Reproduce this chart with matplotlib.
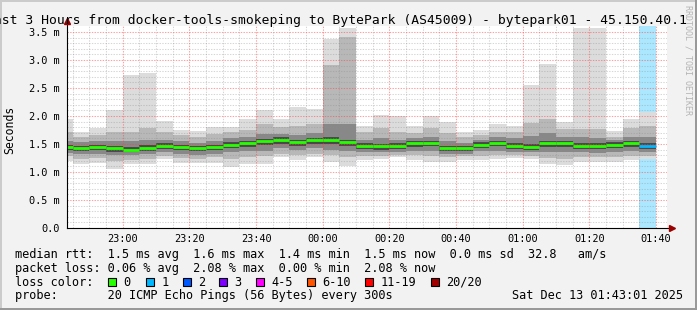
import numpy as np
import matplotlib.pyplot as plt
from matplotlib.patches import Rectangle

W, H = 697, 310

# 5-minute slots, minutes after 22:00 (slot start)
slot_start = np.arange(40, 220, 5)

# per-slot ping distribution, ms
med = [1.45, 1.43, 1.44, 1.42, 1.40, 1.43, 1.47, 1.45, 1.42, 1.45, 1.49, 1.51,
       1.55, 1.58, 1.54, 1.57, 1.58, 1.53, 1.47, 1.46, 1.47, 1.51, 1.52, 1.42,
       1.42, 1.49, 1.52, 1.47, 1.45, 1.51, 1.52, 1.47, 1.47, 1.49, 1.51, 1.47]
hi = [1.95, 1.72, 1.79, 2.11, 2.73, 2.77, 1.91, 1.75, 1.73, 1.81, 1.81, 1.95,
      2.11, 1.95, 2.16, 2.13, 3.38, 3.58, 1.82, 2.02, 2.00, 1.82, 2.00, 1.89,
      1.72, 1.75, 1.85, 1.82, 2.55, 2.93, 1.89, 3.58, 3.58, 1.73, 1.95, 2.08]
lo = [1.20, 1.14, 1.16, 1.05, 1.14, 1.14, 1.23, 1.16, 1.16, 1.16, 1.09, 1.14,
      1.15, 1.26, 1.21, 1.26, 1.18, 1.11, 1.21, 1.23, 1.27, 1.21, 1.18, 1.17,
      1.21, 1.21, 1.23, 1.25, 1.23, 1.14, 1.12, 1.18, 1.17, 1.17, 1.21, 1.23]
p90 = [1.72, 1.62, 1.66, 1.72, 1.72, 1.78, 1.72, 1.66, 1.62, 1.68, 1.72, 1.75,
       1.85, 1.80, 1.82, 1.85, 2.91, 3.41, 1.72, 1.78, 1.72, 1.70, 1.78, 1.70,
       1.62, 1.66, 1.72, 1.72, 1.88, 1.95, 1.76, 1.76, 1.76, 1.62, 1.78, 1.82]
p75 = [1.56, 1.53, 1.55, 1.55, 1.55, 1.58, 1.58, 1.56, 1.52, 1.56, 1.60, 1.62,
       1.68, 1.68, 1.66, 1.70, 1.85, 1.85, 1.58, 1.60, 1.58, 1.60, 1.63, 1.55,
       1.52, 1.58, 1.62, 1.60, 1.65, 1.70, 1.62, 1.62, 1.60, 1.58, 1.62, 1.62]
p60 = [1.49, 1.47, 1.48, 1.47, 1.45, 1.48, 1.51, 1.49, 1.47, 1.49, 1.53, 1.55,
       1.59, 1.62, 1.58, 1.61, 1.63, 1.58, 1.51, 1.50, 1.51, 1.55, 1.56, 1.47,
       1.47, 1.53, 1.56, 1.52, 1.50, 1.55, 1.56, 1.52, 1.52, 1.53, 1.55, 1.52]
p40 = [1.40, 1.38, 1.39, 1.36, 1.35, 1.38, 1.41, 1.40, 1.37, 1.40, 1.43, 1.45,
       1.48, 1.50, 1.47, 1.50, 1.50, 1.46, 1.41, 1.40, 1.41, 1.45, 1.46, 1.37,
       1.37, 1.43, 1.46, 1.41, 1.40, 1.45, 1.45, 1.41, 1.41, 1.43, 1.45, 1.41]
p25 = [1.34, 1.32, 1.33, 1.30, 1.30, 1.32, 1.35, 1.33, 1.31, 1.33, 1.35, 1.37,
       1.38, 1.42, 1.40, 1.42, 1.40, 1.38, 1.35, 1.35, 1.36, 1.38, 1.38, 1.32,
       1.32, 1.37, 1.38, 1.36, 1.35, 1.36, 1.35, 1.35, 1.34, 1.35, 1.37, 1.35]
p10 = [1.28, 1.24, 1.25, 1.20, 1.22, 1.24, 1.29, 1.25, 1.24, 1.26, 1.24, 1.27,
       1.28, 1.32, 1.30, 1.32, 1.30, 1.26, 1.29, 1.29, 1.31, 1.30, 1.28, 1.26,
       1.28, 1.29, 1.31, 1.30, 1.29, 1.25, 1.24, 1.27, 1.26, 1.27, 1.29, 1.29]
# lost pings per slot (out of 20)
loss = [0, 0, 0, 0, 0, 0, 0, 0, 0, 0, 0, 0, 0, 0, 0, 0, 0, 0,
        0, 0, 0, 0, 0, 0, 0, 0, 0, 0, 0, 0, 0, 0, 0, 0, 0, 1]

loss_labels = ['0', '1', '2', '3', '4-5', '6-10', '11-19', '20/20']
loss_colors = ['#26ff00', '#00b8ff', '#0059ff', '#7e00ff', '#ff00ff',
               '#ff5500', '#ff0000', '#a10000']

time_ticks = [60, 80, 100, 120, 140, 160, 180, 200, 220]
time_labels = ['23:00', '23:20', '23:40', '00:00', '00:20', '00:40',
               '01:00', '01:20', '01:40']
y_ticks = [0, 0.5, 1.0, 1.5, 2.0, 2.5, 3.0, 3.5]
y_labels = ['0.0', '0.5 m', '1.0 m', '1.5 m', '2.0 m', '2.5 m', '3.0 m', '3.5 m']

mono = 'DejaVu Sans Mono'
plt.rcParams['font.family'] = mono


def fx(x):
    return x / W


def fy(y):
    return 1 - y / H


fig = plt.figure(figsize=(W / 100, H / 100), dpi=100, facecolor='#f2f2f2')
ax = fig.add_axes([fx(67), fy(228), 600 / W, 201.6 / H])
ax.set_facecolor('white')
ax.set_xlim(43.3, 223.3)
ax.set_ylim(0, 3.6)
for s in ax.spines.values():
    s.set_visible(False)

# loss background
for t, n in zip(slot_start, loss):
    if n > 0:
        ax.axvspan(t, t + 5, color=loss_colors[n], alpha=0.33, lw=0, zorder=1)

# smoke
bands = [(lo, hi, '#dcdcdc'), (p10, p90, '#b8b8b8'),
         (p25, p75, '#888888'), (p40, p60, '#4a4a4a')]
for b, t, c in bands:
    b, t = np.array(b), np.array(t)
    ax.bar(slot_start, t - b, bottom=b, width=5, align='edge', color=c,
           lw=0, zorder=2)

# median
med_cols = [loss_colors[n] for n in loss]
ax.hlines(med, slot_start, slot_start + 5, colors=med_cols, lw=2.0, zorder=4)

# grid
minor_x = [t for t in range(45, 224, 5) if t % 20 != 0]
minor_y = [v / 10 for v in range(1, 36) if v % 5 != 0]
gkw = dict(lw=0.75, dashes=(1.3, 1.3), zorder=3)
for t in minor_x:
    ax.axvline(t, color=(0.55, 0.55, 0.55, 0.35), **gkw)
for v in minor_y:
    ax.axhline(v, color=(0.55, 0.55, 0.55, 0.35), **gkw)
for t in time_ticks:
    ax.axvline(t, color=(1, 0.25, 0.25, 0.5), **gkw)
for v in y_ticks[1:]:
    ax.axhline(v, color=(1, 0.25, 0.25, 0.5), **gkw)

ax.set_xticks(time_ticks, time_labels)
ax.set_yticks(y_ticks, y_labels)
ax.tick_params(length=0, labelsize=7.4, colors='#000000', pad=5)
ax.tick_params(axis='x', pad=4.5)

# axes with arrows
ax.plot([0, 0], [0, 1.02], color='black', lw=0.8, transform=ax.transAxes,
        clip_on=False, zorder=6)
ax.plot([0, 1.005], [0, 0], color='black', lw=0.8, transform=ax.transAxes,
        clip_on=False, zorder=6)
ax.plot(0, 1.025, marker='^', ms=4, color='#990000', transform=ax.transAxes,
        clip_on=False, zorder=7)
ax.plot(1.008, 0, marker='>', ms=4, color='#990000', transform=ax.transAxes,
        clip_on=False, zorder=7)

# title (clipped at both image edges, as in the original) and labels
fig.text(fx(-13.8), fy(24),
         'Last 3 Hours from docker-tools-smokeping to BytePark (AS45009) - bytepark01 - 45.150.40.1',
         fontsize=9.4, va='baseline', ha='left')
fig.text(fx(10), fy(130), 'Seconds', rotation=90, fontsize=8.3,
         ha='center', va='center')
fig.text(fx(688), fy(5), 'RRDTOOL / TOBI OETIKER', rotation=270, fontsize=6,
         color='#b4b4b4', ha='center', va='top')

lfs = 8.6
rows = ['median rtt:  1.5 ms avg  1.6 ms max  1.4 ms min  1.5 ms now  0.0 ms sd  32.8   am/s',
        'packet loss: 0.06 % avg  2.08 % max  0.00 % min  2.08 % now',
        'loss color:',
        'probe:       20 ICMP Echo Pings (56 Bytes) every 300s']
for i, r in enumerate(rows):
    fig.text(fx(15), fy(258.3 + i * 13.7), r, fontsize=lfs, va='baseline')
fig.text(fx(512), fy(299.3), 'Sat Dec 13 01:43:01 2025', fontsize=lfs,
         va='baseline')

box_x = [108, 146, 183, 219, 256, 307, 365, 431]
for bx, lab, c in zip(box_x, loss_labels, loss_colors):
    fig.add_artist(Rectangle((fx(bx), fy(286)), 8 / W, 8 / H, facecolor=c,
                             edgecolor='black', lw=0.8, transform=fig.transFigure))
    fig.text(fx(bx + 15.5), fy(285.7), lab, fontsize=lfs, va='baseline')

# frame
fig.add_artist(Rectangle((0, fy(2)), 1, 2 / H, color='#cbcbcb', lw=0,
                         transform=fig.transFigure))
fig.add_artist(Rectangle((0, 0), 2 / W, 1, color='#cbcbcb', lw=0,
                         transform=fig.transFigure))
fig.add_artist(Rectangle((0, 0), 1, 2.5 / H, color='#999999', lw=0,
                         transform=fig.transFigure))
fig.add_artist(Rectangle((fx(695), 0), 2 / W, 1, color='#999999', lw=0,
                         transform=fig.transFigure))

fig.savefig('out.png', dpi=100, facecolor=fig.get_facecolor())
